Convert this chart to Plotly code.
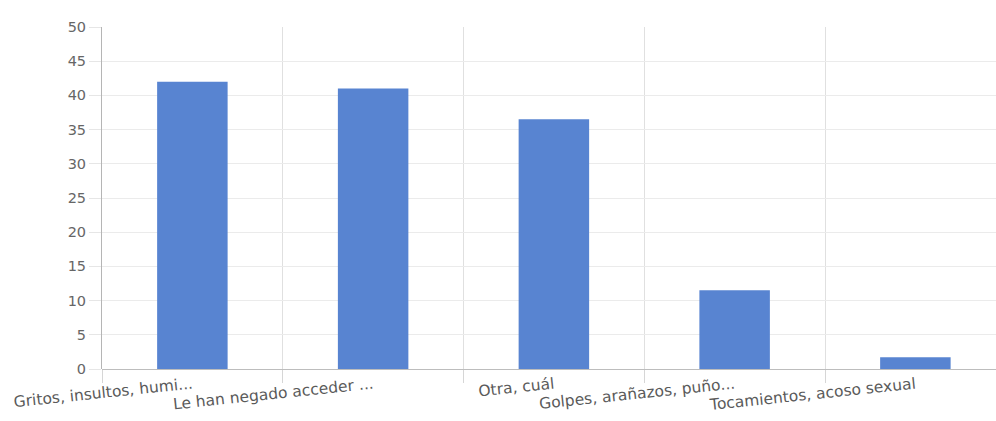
import plotly.graph_objects as go

categories = [
    "Gritos, insultos, humi...",
    "Le han negado acceder ...",
    "Otra, cuál",
    "Golpes, arañazos, puño...",
    "Tocamientos, acoso sexual",
]
values = [42, 41, 36.5, 11.5, 1.7]
y_ticks = [0, 5, 10, 15, 20, 25, 30, 35, 40, 45, 50]

fig = go.Figure(
    go.Bar(
        x=categories,
        y=values,
        marker=dict(color="#5884d1", line=dict(width=0)),
        width=0.39,
        hoverinfo="x+y",
    )
)

fig.update_layout(
    width=996,
    height=421,
    margin=dict(l=102, r=0, t=27, b=52),
    paper_bgcolor="white",
    plot_bgcolor="white",
    showlegend=False,
    font=dict(family="DejaVu Sans, Verdana, sans-serif", size=14, color="#555555"),
)

fig.update_xaxes(
    range=[-0.5, 4.446],
    tickson="boundaries",
    ticks="outside",
    ticklen=13,
    tickcolor="#d6d6d6",
    showgrid=True,
    gridcolor="#e0e0e0",
    gridwidth=1,
    tickangle=-6,
    ticklabelstandoff=3,
    tickfont=dict(family="DejaVu Sans, Verdana, sans-serif", size=15.5, color="#5a5a5a"),
    showline=False,
    zeroline=False,
)

fig.update_yaxes(
    range=[0, 50],
    tickvals=y_ticks,
    ticks="outside",
    ticklen=12,
    tickcolor="#e6e6e6",
    showgrid=True,
    gridcolor="#ebebeb",
    gridwidth=1,
    zeroline=True,
    zerolinecolor="#bdbdbd",
    zerolinewidth=1,
    showline=True,
    linecolor="#b5b5b5",
    linewidth=1,
    tickfont=dict(family="DejaVu Sans, Verdana, sans-serif", size=14.5, color="#666666"),
)

fig.write_html("out.html")
